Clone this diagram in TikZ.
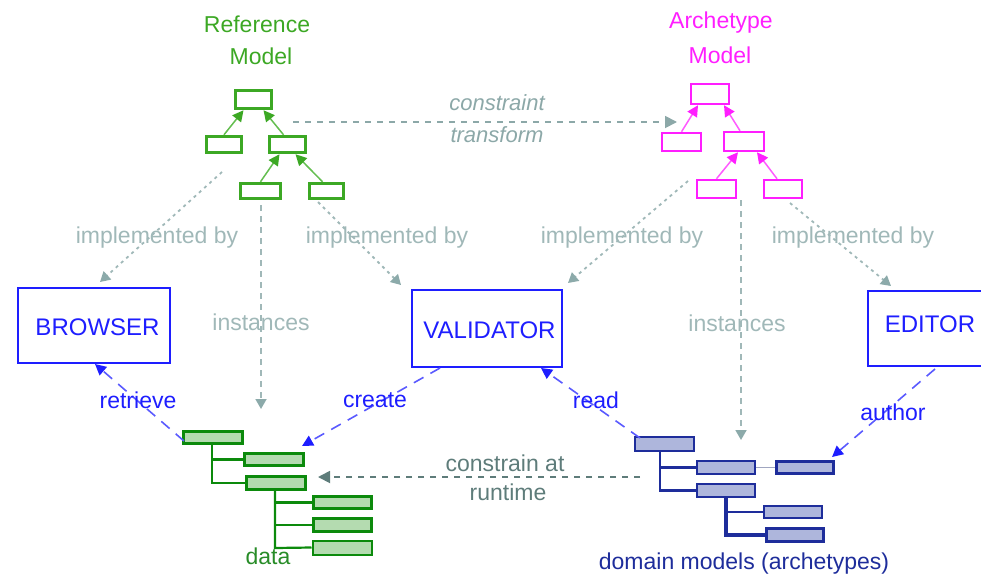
\documentclass[tikz,border=0pt]{standalone}
\usepackage{fontspec}
\setmainfont{Liberation Sans}
\usetikzlibrary{arrows.meta,calc}
\definecolor{refgreen}{RGB}{60,168,36}
\definecolor{refgreenl}{RGB}{100,190,80}
\definecolor{archmag}{RGB}{255,30,255}
\definecolor{archmagl}{RGB}{255,90,255}
\definecolor{lgray}{RGB}{160,184,184}
\definecolor{lgrayh}{RGB}{140,170,170}
\definecolor{ctgray}{RGB}{140,168,168}
\definecolor{rtgray}{RGB}{94,124,122}
\definecolor{toolblue}{RGB}{30,30,255}
\definecolor{blueline}{RGB}{90,90,255}
\definecolor{datagreen}{RGB}{12,138,12}
\definecolor{datafill}{RGB}{180,219,176}
\definecolor{datatext}{RGB}{40,140,40}
\definecolor{domblue}{RGB}{30,45,155}
\definecolor{domfill}{RGB}{174,182,220}
\begin{document}
\begin{tikzpicture}[x=1pt,y=-1pt,
  font=\fontsize{23}{26}\selectfont,
  gbox/.style={draw=refgreen, line width=3.5pt, fill=white, inner sep=0pt},
  mbox/.style={draw=archmag, line width=2.5pt, fill=white, inner sep=0pt},
  garr/.style={draw=refgreenl, line width=1.5pt, -{Triangle[length=11pt,width=11pt,color=refgreen]}},
  marr/.style={draw=archmagl, line width=1.5pt, -{Triangle[length=11pt,width=11pt,color=archmag]}},
  toolbox/.style={draw=toolblue, line width=2pt, fill=white, text=toolblue, inner sep=0pt},
  dbox/.style={draw=datagreen, fill=datafill, line width=3pt, inner sep=0pt},
  abox/.style={draw=domblue, fill=domfill, line width=2.3pt, inner sep=0pt},
  dline/.style={draw=datagreen, line width=2.2pt},
  aline/.style={draw=domblue, line width=2.2pt},
  impl/.style={draw=lgray, line width=1.8pt, dash pattern=on 3pt off 4pt, -{Triangle[length=10pt,width=11pt,color=lgrayh]}},
  ctarr/.style={draw=ctgray, line width=1.8pt, dash pattern=on 6pt off 6pt, -{Triangle[length=12pt,width=12pt,color=ctgray]}},
  rtarr/.style={draw=rtgray, line width=1.8pt, dash pattern=on 6pt off 6pt, -{Triangle[length=12pt,width=12pt,color=rtgray]}},
  blarr/.style={draw=blueline, line width=1.6pt, dash pattern=on 11pt off 8pt, -{Triangle[length=11pt,width=11pt,color=toolblue]}},
  lbl/.style={text=lgray, inner sep=1pt},
  blbl/.style={text=toolblue, inner sep=1pt}
]
\useasboundingbox (0,0) rectangle (981,581);

% titles
\node[text=refgreen] (reft1) at (257,24) {Reference};
\node[text=refgreen] (reft2) at (261,56) {Model};
\node[text=archmag] (archt1) at (721,23) {Archetype};
\node[text=archmag] (archt2) at (720,55) {Model};

% reference model tree
\node[gbox, minimum width=36pt, minimum height=18pt] (g1) at (253.5,99.5) {};
\node[gbox, minimum width=35pt, minimum height=16pt] (g2) at (224,144.5) {};
\node[gbox, minimum width=36pt, minimum height=16pt] (g3) at (287.5,144.5) {};
\node[gbox, minimum width=40pt, minimum height=15pt] (g4) at (260.5,191) {};
\node[gbox, minimum width=34pt, minimum height=15pt] (g5) at (326.5,191) {};
\draw[garr] (g2.north) -- ([xshift=-10pt]g1.south);
\draw[garr] ([xshift=-4pt]g3.north) -- ([xshift=10pt]g1.south);
\draw[garr] (g4.north) -- ([xshift=-8pt]g3.south);
\draw[garr] ([xshift=-4pt]g5.north) -- ([xshift=8pt]g3.south);

% archetype model tree
\node[mbox, minimum width=38pt, minimum height=20pt] (m1) at (710,94) {};
\node[mbox, minimum width=39pt, minimum height=18pt] (m2) at (681.5,142) {};
\node[mbox, minimum width=40pt, minimum height=19pt] (m3) at (744,141.5) {};
\node[mbox, minimum width=39pt, minimum height=18pt] (m4) at (716.5,189) {};
\node[mbox, minimum width=38pt, minimum height=18pt] (m5) at (783,189) {};
\draw[marr] (m2.north) -- ([xshift=-12pt]m1.south);
\draw[marr] ([xshift=-4pt]m3.north) -- ([xshift=14pt]m1.south);
\draw[marr] (m4.north) -- ([xshift=-6pt]m3.south);
\draw[marr] ([xshift=-6pt]m5.north) -- ([xshift=13pt]m3.south);

% constraint transform
\coordinate (cts) at (293,122);
\coordinate (cte) at (677,122);
\draw[ctarr] (cts) -- (cte);
\node[text=ctgray, font=\fontsize{22}{24}\selectfont\itshape] (ct1) at (497,103) {constraint};
\node[text=ctgray, font=\fontsize{22}{24}\selectfont\itshape] (ct2) at (497,135) {transform};

% tools
\node[toolbox, minimum width=152pt, minimum height=75pt] (browser) at (94,325.5) {};
\node[text=toolblue, font=\fontsize{24}{26}\selectfont] (browsert) at (97.5,327) {BROWSER};
\node[toolbox, minimum width=150pt, minimum height=77pt] (validator) at (487,328.5) {};
\node[text=toolblue, font=\fontsize{24}{26}\selectfont] (validatort) at (489.5,330) {VALIDATOR};
\node[toolbox, minimum width=124pt, minimum height=75pt] (editor) at (930,328.5) {};
\node[text=toolblue, font=\fontsize{24}{26}\selectfont] (editort) at (930,324) {EDITOR};

% implemented by
\coordinate (i1s) at (222,172);  \coordinate (i1e) at (100,282);
\coordinate (i2s) at (318,202);  \coordinate (i2e) at (401,285);
\coordinate (i3s) at (688,181);  \coordinate (i3e) at (568,283);
\coordinate (i4s) at (790,203);  \coordinate (i4e) at (891,286);
\draw[impl] (i1s) -- (i1e);
\draw[impl] (i2s) -- (i2e);
\draw[impl] (i3s) -- (i3e);
\draw[impl] (i4s) -- (i4e);
\node[lbl] (ib1) at (157,238) {implemented by};
\node[lbl] (ib2) at (387,238) {implemented by};
\node[lbl] (ib3) at (622,238) {implemented by};
\node[lbl] (ib4) at (853,238) {implemented by};

% instances
\coordinate (n1s) at (261,205);  \coordinate (n1e) at (261,409);
\coordinate (n2s) at (741,200);  \coordinate (n2e) at (741,440);
\draw[impl, dash pattern=on 6pt off 5pt] (n1s) -- (n1e);
\draw[impl, dash pattern=on 6pt off 5pt] (n2s) -- (n2e);
\node[lbl] (in1) at (261,322) {instances};
\node[lbl] (in2) at (737,323) {instances};

% data tree
\node[dbox, minimum width=59pt, minimum height=12pt] (d1) at (212.5,437) {};
\node[dbox, minimum width=59pt, minimum height=12pt] (d2) at (274,459.5) {};
\node[dbox, minimum width=59pt, minimum height=13pt] (d3) at (276,483) {};
\node[dbox, minimum width=58pt, minimum height=12pt] (d4) at (342.5,502.5) {};
\node[dbox, minimum width=58pt, minimum height=13pt] (d5) at (342.5,525) {};
\node[dbox, line width=2pt, minimum width=59pt, minimum height=14pt] (d6) at (342,547.5) {};
\coordinate (dv1t) at (212,444);
\coordinate (dv1b) at (212,483);
\coordinate (dv2t) at (275,491);
\coordinate (dv2b) at (275,548);
\draw[dline] (dv1t) -- (dv1b) -- (d3.west);
\draw[dline, line width=3pt] (dv1t |- d2.west) -- (d2.west);
\draw[dline] (dv2t) -- (dv2b) -- (d6.west);
\draw[dline] (dv2t |- d4.west) -- (d4.west);
\draw[dline] (dv2t |- d5.west) -- (d5.west);
\node[text=datatext] (datal) at (268,556) {data};

% domain tree
\node[abox, minimum width=59pt, minimum height=14pt] (a1) at (664.5,444) {};
\node[abox, minimum width=58pt, minimum height=13pt] (a2) at (726,467.5) {};
\node[abox, line width=3pt, minimum width=57pt, minimum height=12pt] (a2b) at (805,467.5) {};
\node[abox, minimum width=58pt, minimum height=13pt] (a3) at (726,490.5) {};
\node[abox, minimum width=58pt, minimum height=12pt] (a4) at (793,512) {};
\node[abox, line width=3pt, minimum width=57pt, minimum height=13pt] (a5) at (795,535) {};
\draw[draw=domfill!70!gray, line width=1.5pt] (a2.east) -- (a2b.west);
\coordinate (av1t) at (660,452);
\coordinate (av2t) at (726,498);
\draw[aline] (av1t) -- (av1t |- a3.west) -- (a3.west);
\draw[aline] (av1t |- a2.west) -- (a2.west);
\draw[aline, line width=3.2pt] (av2t) -- (av2t |- a5.west) -- (a5.west);
\draw[aline] (av2t |- a4.west) -- (a4.west);
\node[text=domblue] (doml) at (744,564) {domain models (archetypes)};

% constrain at runtime
\coordinate (rts) at (640,477);
\coordinate (rte) at (318,477);
\draw[rtarr] (rts) -- (rte);
\node[text=rtgray, inner sep=1pt] (rt1) at (505,463) {constrain at};
\node[text=rtgray, inner sep=1pt] (rt2) at (508,492) {runtime};

% blue arrows
\coordinate (bl1s) at (184,441); \coordinate (bl1e) at (95,364);
\coordinate (bl2s) at (440,368); \coordinate (bl2e) at (302,446);
\coordinate (bl3s) at (640,438); \coordinate (bl3e) at (541,368);
\coordinate (bl4s) at (935,369); \coordinate (bl4e) at (832,457);
\draw[blarr] (bl1s) -- (bl1e);
\draw[blarr] (bl2s) -- (bl2e);
\draw[blarr] (bl3s) -- (bl3e);
\draw[blarr] (bl4s) -- (bl4e);
\node[blbl] (lr) at (138,400) {retrieve};
\node[blbl] (lc) at (375,400) {create};
\node[blbl] (lrd) at (596,400) {read};
\node[blbl] (la) at (893,412) {author};
\end{tikzpicture}
\end{document}
